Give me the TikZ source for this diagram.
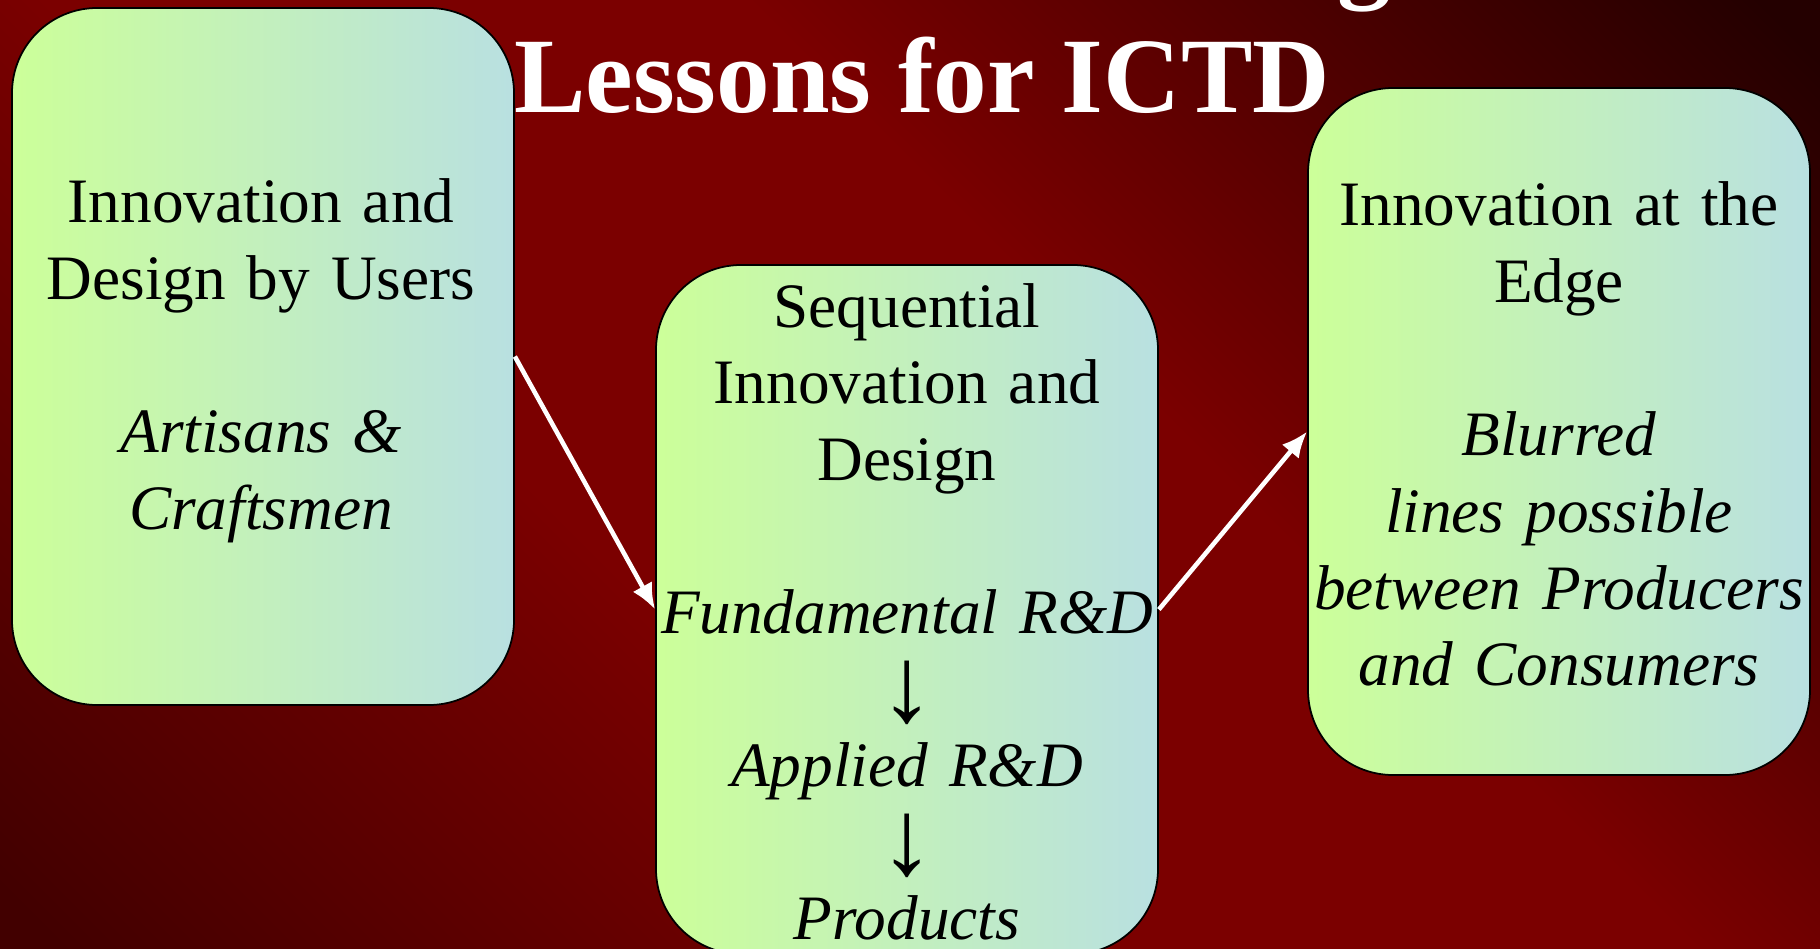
\documentclass[tikz,border=0pt]{standalone}
\usepackage{fontspec}
\setmainfont{Liberation Serif}
\usetikzlibrary{arrows.meta}

\definecolor{bgdark}{HTML}{240000}
\definecolor{bglow}{HTML}{420000}
\definecolor{bgred}{HTML}{7B0000}
\definecolor{boxgreen}{HTML}{CCFF99}
\definecolor{boxblue}{HTML}{B9E0E1}

% dark corner at the lower left, red band across, near black at the upper right
\pgfdeclareverticalshading{slidebg}{100bp}{color(0bp)=(bglow); color(16bp)=(bglow); color(40bp)=(bgred); color(58bp)=(bgred); color(84bp)=(bgdark); color(100bp)=(bgdark)}

\newcommand{\stepdown}{\smash{\raisebox{-1.1mm}{\scalebox{1.75}[1.7]{\bfseries ↓}}}}

\tikzset{
  stage/.style={draw=black, line width=0.5pt, rounded corners=8.5mm,
    left color=boxgreen, right color=boxblue, minimum width=50.2mm, inner sep=0pt},
  stagetext/.style={anchor=base, text width=52mm, align=center,
    font=\fontsize{18}{21.8}\selectfont, inner sep=0pt},
  heading/.style={anchor=base, text=white, inner sep=0pt,
    font=\fontsize{30.5}{36}\selectfont\bfseries},
  flow/.style={draw=white, line width=1.3pt, -{Latex[length=2.6mm,width=2.2mm]}},
}

\begin{document}
\begin{tikzpicture}[x=0.1mm, y=-0.1mm]
  \useasboundingbox (0,0) rectangle (1820,949);
  \shade[shading=slidebg, shading angle=-45] (0,0) rectangle (1820,949);

  % the three stages
  \node[stage, minimum height=69.7mm] (users) at (263,356.5) {};
  \node[stage, minimum height=68.9mm] (seq) at (907,609.5) {};
  \node[stage, minimum height=68.7mm] (atedge) at (1559,431.5) {};

  \node[stagetext] (userstext) at (261,223)
    {Innovation and\\Design by Users\\[21.8pt]\textit{Artisans \&}\\\textit{Craftsmen}};
  \node[stagetext] (seqtext) at (907,327)
    {Sequential\\Innovation and\\Design\\[21.8pt]\textit{Fundamental R\&D}\\\stepdown\\\textit{Applied R\&D}\\\stepdown\\\textit{Products}};
  \node[stagetext] (edgetext) at (1559,226)
    {Innovation at the\\Edge\\[21.8pt]\textit{Blurred}\\\textit{lines possible}\\\textit{between Producers}\\\textit{and Consumers}};

  \draw[flow] (users.east) -- (seq.west);
  \draw[flow] (seq.east) -- (atedge.west);

  % heading, the line above it runs off the top
  \node[heading] (titletop) at (1364,-11) {g};
  \node[heading] (title) at (922,113) {Lessons for ICTD};
\end{tikzpicture}
\end{document}
